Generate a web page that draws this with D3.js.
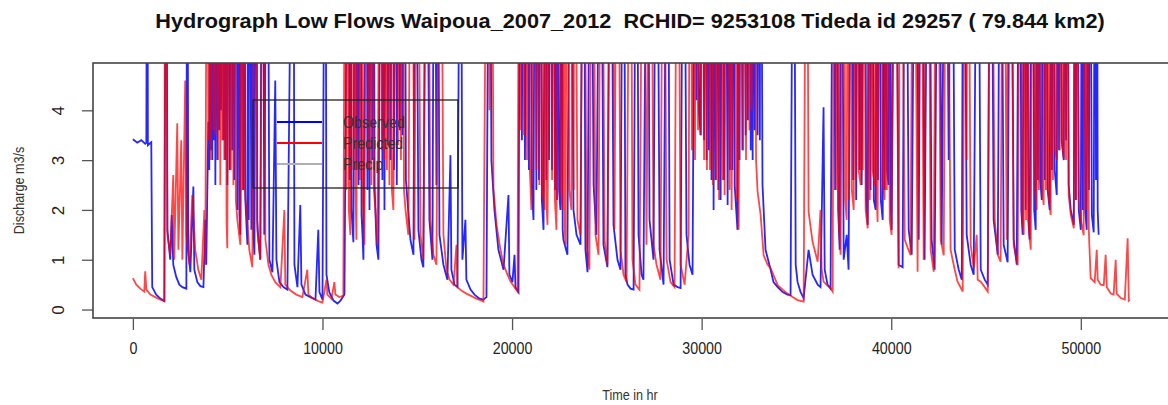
<!DOCTYPE html>
<html>
<head>
<meta charset="utf-8">
<script src="https://cdn.jsdelivr.net/npm/d3@7"></script>
<style>
  html, body { margin: 0; padding: 0; background: #fff; }
  svg { display: block; font-family: "Liberation Sans", Arial, sans-serif; }
</style>
</head>
<body>
<svg id="chart" width="1168" height="405"></svg>
<script>
/**
 * Peaks run above the plot top and are clipped, as in the original.
 */
const observedFlow = [
  [0,3.42],[230,3.35],[440,3.40],[650,3.33],[710,3.35],[760,12],[790,3.3],[970,3.36],[1020,0.45],[1230,0.3],[1450,0.22],[1660,0.17],
  [1760,12],[1820,1.6],[1970,1.0],[2050,1.9],[2130,0.9],[2290,0.65],[2450,0.5],[2610,0.45],[2820,0.42],[2870,12],[2920,1.2],[3030,0.75],
  [3190,2.47],[3240,0.8],[3400,0.55],[3560,0.47],[3720,0.45],[3820,1.8],[3870,0.9],
  [3980,3.77],[4030,2.8],[4090,12],[4120,3.2],[4140,12],[4190,3.0],[4240,12],[4270,3.4],[4300,12],[4350,2.5],[4420,12],[4460,3.0],
  [4510,12],[4560,3.6],[4610,12],[4650,4.0],[4720,12],[4770,3.4],[4820,12],[4870,3.0],[4930,12],[4980,2.5],[5070,12],[5110,2.8],
  [5190,12],[5240,3.2],[5310,12],[5350,2.6],[5460,12],[5510,2.0],[5580,12],[5620,1.9],[5670,1.5],[5770,12],[5820,2.4],[5880,12],
  [5930,2.2],[6040,1.3],[6080,12],[6110,1.8],[6140,12],[6250,1.6],[6330,12],[6360,1.5],[6410,1.1],[6510,12],[6560,1.8],[6620,1.4],
  [6720,1.0],[6830,12],[6930,1.5],[7090,12],[7200,1.0],[7360,0.75],
  [7510,4.6],[7570,1.0],[7730,0.55],[7940,0.45],[8150,0.4],[8460,12],[8520,0.9],[8680,0.45],[8830,2.1],[8890,0.5],[9100,0.3],[9360,0.25],
  [9630,0.2],[9780,1.6],[9840,0.35],[10000,0.2],[10150,12],[10210,0.7],[10360,0.35],[10580,0.18],[10790,0.12],[10950,0.18],[11160,0.3],
  [11370,12],[11430,2.6],[11470,12],[11530,2.0],[11630,1.35],[11740,12],[11790,2.8],[11840,12],[11900,2.5],[12000,12],[12060,1.9],
  [12110,1.5],[12160,1.0],[12320,12],[12370,2.4],[12420,12],[12480,2.0],[12580,12],[12630,3.0],[12690,12],[12750,2.5],[12850,1.3],
  [12950,1.0],[13110,12],[13160,2.6],[13210,12],[13270,2.0],[13370,12],[13450,3.3],[13530,12],[13590,3.0],[13690,12],[13770,2.8],
  [13850,12],[13920,2.5],[14010,12],[14080,3.6],[14160,12],[14220,3.5],[14320,12],[14400,2.6],[14480,2.2],
  [14640,1.4],[14800,1.1],[14900,12],[15060,1.6],[15220,1.0],[15320,0.85],[15480,12],[15640,1.8],[15800,1.0],[15910,12],[16010,2.5],[16060,12],
  [16170,1.5],[16380,0.9],[16590,0.6],[16750,3.1],[16800,0.8],[16960,0.5],[17120,0.45],[17280,12],[17380,1.0],[17540,1.8],[17590,0.6],
  [17810,0.4],[18020,0.3],[18280,0.22],[18490,0.2],[18650,0.25],[18810,12],[18910,3.0],[19070,2.0],[19280,1.2],[19550,0.8],[19810,2.3],
  [19860,0.7],[20020,0.55],[20130,1.1],[20180,0.45],[20340,0.35],
  [20440,12],[20520,3.4],[20600,12],[20680,3.0],[20810,12],[20890,2.8],[20970,12],[21040,2.5],[21130,1.8],[21230,12],[21280,2.4],
  [21340,12],[21420,2.6],[21500,12],[21570,2.2],[21660,1.6],[21760,12],[21810,2.6],[21870,12],[21950,3.0],[22030,12],[22110,2.8],
  [22190,12],[22270,2.4],[22340,12],[22370,2.2],[22400,12],[22480,2.4],[22550,2.0],[22630,12],[22670,1.6],[22710,1.4],[22920,1.1],
  [23080,12],[23240,2.0],
  [23400,1.5],[23610,1.3],[23770,12],[23870,1.2],[23980,0.75],[24140,12],[24300,2.5],[24450,1.5],[24670,12],[24820,1.3],[25030,0.85],
  [25190,12],[25350,1.7],[25560,1.0],[25720,0.8],[25880,12],[25980,0.7],[26090,0.5],[26250,0.42],[26410,0.4],[26570,12],[26670,1.5],
  [26830,0.7],[26930,0.6],[27150,12],[27250,1.8],[27460,1.0],[27620,12],[27780,1.2],[27990,0.5],[28200,12],[28310,1.0],[28520,0.5],
  [28730,0.45],[28890,0.43],[29050,12],[29200,1.5],[29360,0.9],[29520,0.7],
  [29680,12],[29730,4.2],[29780,12],[29860,4.0],[29940,3.5],[30050,12],[30130,3.4],[30190,12],[30260,3.0],[30340,12],[30380,3.2],
  [30420,12],[30520,2.6],[30580,12],[30630,2.0],[30700,12],[30740,2.6],[30790,12],[30880,2.4],[30940,12],[31000,2.2],[31100,12],
  [31180,2.6],[31240,12],[31370,2.1],[31450,12],[31490,2.8],[31530,12],[31620,2.8],[31680,12],[31740,2.5],[31890,1.6],[31960,12],
  [32000,3.0],[32050,12],[32150,3.2],[32220,12],[32320,3.5],[32400,12],[32440,3.8],[32480,12],[32590,3.2],[32640,12],[32690,3.0],
  [32760,12],[32800,3.6],[32840,12],[32950,3.5],[33030,12],[33070,3.4],[33110,12],
  [33210,2.5],[33370,1.2],[33640,0.8],[33790,0.55],[34010,0.45],[34270,0.35],[34530,0.3],
  [34690,0.29],[34850,12],[34960,0.9],[35060,0.55],[35220,0.35],[35380,0.23],[35640,1.2],[35850,0.7],[36120,0.5],[36270,0.45],[36430,4.06],
  [36490,0.8],[36640,0.5],[36800,0.42],
  [36960,12],[37040,2.4],[37120,12],[37200,2.0],[37280,1.2],[37380,12],[37490,1.0],[37650,1.5],[37750,0.8],[37910,12],[37990,2.6],
  [38070,12],[38150,2.2],[38230,12],[38330,2.8],[38400,12],[38440,2.5],[38600,12],[38680,2.2],[38760,1.7],[38860,12],[38910,2.4],
  [38970,12],[39080,2.2],[39180,2.0],[39260,12],[39300,2.6],[39340,12],[39450,2.2],[39550,1.8],[39630,12],[39660,2.4],[39700,12],
  [39780,2.8],[39860,2.5],[39940,12],[39980,2.0],[40020,1.6],
  [40230,12],[40390,0.9],[40600,0.85],[40760,12],[40920,1.6],[41080,1.1],[41290,12],[41450,1.4],[41600,12],[41760,1.0],[41970,12],[42130,1.4],
  [42290,0.8],[42500,12],[42660,1.3],[42870,12],[43030,3.0],[43190,12],[43350,1.2],[43560,0.8],[43720,0.6],[43820,12],[43980,1.5],[44190,0.9],
  [44350,0.7],[44560,12],[44720,0.8],[44930,0.6],[45090,0.5],[45250,12],[45400,1.8],[45620,1.1],[45770,12],[45930,1.3],[46140,0.95],
  [46300,12],[46460,1.4],[46620,0.9],
  [46780,12],[46860,2.0],[46930,1.5],[47050,12],[47090,2.0],[47150,12],[47230,1.8],[47300,1.4],[47460,12],[47540,2.0],[47620,1.6],
  [47700,12],[47740,2.6],[47780,12],[47860,2.6],[47940,2.2],[48050,12],[48100,2.6],[48150,12],[48250,2.4],[48360,2.0],[48440,12],
  [48480,2.8],[48520,12],[48620,2.8],[48730,2.3],[48810,12],[48850,3.2],[48890,12],[48990,3.4],[49100,3.0],[49180,12],[49220,3.4],
  [49260,12],[49360,2.5],[49470,2.0],[49630,1.7],[49700,12],[49740,2.2],[49780,12],[49890,2.0],[50000,1.6],[50080,12],[50110,2.0],
  [50150,12],[50230,2.0],[50310,1.6],[50400,12],[50430,2.4],[50470,12],[50580,1.9],[50680,1.55],[50760,12],[50800,2.6],[50840,12],
  [50890,2.0],[50940,1.5]
];

const predictedFlow = [
  [0,0.63],[180,0.5],[390,0.42],[600,0.36],[650,0.77],[710,0.4],[920,0.3],[1180,0.25],[1450,0.2],[1660,0.17],[1710,12],[1820,1.5],
  [1970,1.1],[2130,2.7],[2180,1.0],[2340,3.74],[2400,1.2],[2550,3.4],[2610,1.0],[2760,4.6],[2820,1.5],[2980,0.9],[3130,2.3],[3290,1.2],
  [3450,0.8],[3610,0.6],[3770,2.0],[3820,0.9],
  [3930,12],[3980,3.4],[4030,12],[4100,3.0],[4190,12],[4250,3.6],[4300,12],[4350,3.5],[4400,12],[4480,3.0],[4560,12],[4610,2.5],
  [4670,12],[4720,3.4],[4770,12],[4820,3.0],[4880,12],[4940,1.8],[4980,1.23],[5090,12],[5170,2.8],[5250,12],[5300,2.5],[5350,12],
  [5430,2.2],[5510,1.8],[5670,1.3],[5750,12],[5790,2.4],[5830,12],[5910,2.4],[5990,2.0],
  [6140,1.2],[6300,0.85],[6460,12],[6560,1.6],
  [6720,1.0],[6880,12],[6990,1.4],[7150,0.9],[7300,0.7],[7510,0.55],[7780,0.45],[7990,2.0],[8040,0.5],[8310,0.38],[8620,0.3],[8940,0.25],
  [9200,0.8],[9260,0.3],[9520,0.22],[9780,0.17],[10000,0.14],[10210,0.6],[10260,0.3],[10470,0.22],[10630,0.55],[10680,0.3],[10890,0.25],
  [11100,0.28],
  [11210,12],[11260,2.4],[11310,12],[11390,2.0],[11470,1.5],[11580,12],[11630,2.8],[11680,12],[11740,2.5],[11790,1.4],[11900,12],
  [11970,2.6],[12050,12],[12130,2.2],[12210,1.3],[12370,12],[12450,2.8],[12530,12],[12580,2.5],[12630,12],[12710,2.4],[12790,2.0],
  [12900,1.3],[13060,12],[13130,3.2],[13210,12],[13260,3.0],[13320,12],[13400,2.8],[13480,12],[13530,2.5],[13580,12],[13660,2.4],
  [13740,2.0],[13900,12],[13980,3.3],[14060,12],[14140,3.0],[14220,12],[14300,2.4],[14380,2.0],
  [14530,1.5],[14690,12],[14850,1.4],[15010,12],[15170,1.5],[15320,1.0],[15540,12],[15690,1.8],[15850,1.1],
  [16010,0.9],[16220,12],[16380,1.5],[16540,0.8],[16700,0.6],[16910,0.5],[17070,1.3],[17120,0.45],[17330,0.38],[17590,0.32],[17860,0.27],
  [18120,0.22],[18330,0.19],[18490,0.16],[18700,12],[18810,4.0],[18910,12],[19020,2.43],[19180,1.7],[19390,1.2],[19550,0.9],[19760,0.7],
  [19920,0.56],[20130,0.45],[20290,0.36],
  [20390,12],[20470,3.6],[20550,12],[20630,3.5],[20710,12],[20790,3.0],[20870,12],[20940,2.8],[21020,2.0],[21180,12],[21290,2.8],
  [21390,12],[21440,2.5],[21500,12],[21600,2.4],[21710,2.0],[21790,12],[21830,2.0],[21870,1.7],[22030,12],[22110,2.6],[22190,12],
  [22260,2.2],[22340,1.6],[22500,12],[22580,2.4],[22660,2.0],[22740,12],[22780,1.6],[22820,1.3],[22920,12],[23020,2.4],[23130,2.0],
  [23210,12],[23250,2.4],[23290,12],[23450,1.8],
  [23610,1.5],[23770,12],[23930,1.3],[24080,0.8],[24240,12],[24400,1.5],[24560,1.1],[24720,12],[24880,1.4],[25030,0.9],[25250,12],[25400,1.6],
  [25560,12],[25720,1.2],[25880,0.7],[26040,0.55],[26250,12],[26350,1.0],[26510,0.5],[26720,0.4],[26930,12],[27090,1.3],[27300,12],
  [27460,1.3],[27620,0.9],[27830,0.6],[27990,12],[28150,1.0],[28360,0.55],[28570,0.45],[28730,12],[28890,0.9],[29100,0.5],[29310,1.5],
  [29410,12],[29490,3.2],[29570,12],[29650,3.0],[29730,12],[29810,3.6],[29890,12],[29970,3.5],[30050,12],[30130,3.0],[30210,12],
  [30280,2.8],[30360,12],[30440,2.8],[30520,12],[30600,2.5],[30680,12],[30760,2.6],[30840,12],[30920,2.2],[31000,12],[31100,2.6],
  [31160,12],[31210,2.3],[31370,12],[31470,2.4],[31530,12],[31580,2.0],[31740,12],[31840,2.2],[31890,12],[31950,1.6],[32110,12],
  [32190,3.2],[32270,12],[32340,3.0],[32420,12],[32520,3.6],[32580,12],[32630,4.0],[32790,12],[32870,3.0],[32950,2.37],
  [33110,1.9],[33270,1.09],
  [33480,0.9],[33640,0.83],[34010,0.49],[34270,0.4],[34530,0.32],[34800,0.25],[35060,0.19],[35380,0.16],[35540,12],[35640,1.96],
  [35850,1.36],[36120,0.96],[36270,2.0],[36330,0.8],[36430,0.56],[36640,0.48],[36800,0.43],[36910,0.36],
  [37010,12],[37090,2.4],[37170,12],[37250,1.6],[37330,1.1],[37490,12],[37570,2.2],[37650,1.8],[37730,12],[37770,2.2],[37810,12],
  [37920,2.4],[38020,2.0],[38100,12],[38130,2.6],[38170,12],[38280,2.8],[38390,2.5],[38460,12],[38500,2.8],[38540,12],[38650,2.0],
  [38760,1.63],[38840,12],[38870,2.2],[38910,12],[39020,2.8],[39130,2.5],[39200,12],[39240,2.2],[39280,1.76],[39440,12],[39540,2.6],
  [39650,2.2],[39730,12],[39770,2.4],[39810,12],[39920,1.8],[40020,1.5],[40180,12],
  [40390,0.83],[40500,12],[40710,1.4],[41020,1.09],[41180,12],[41390,0.76],[41550,12],[41710,1.0],
  [41920,12],[42080,1.2],[42240,0.76],[42400,12],[42610,1.4],[42770,1.09],[42920,12],[43130,1.2],[43350,0.8],[43500,0.56],[43770,0.36],
  [43930,12],[43980,3.0],[44030,12],[44190,1.3],[44350,0.83],[44510,1.5],[44560,0.6],[44720,0.56],[44930,0.45],[45090,0.36],[45250,12],
  [45460,1.8],[45620,1.1],[45770,0.96],[45930,12],[46090,1.4],[46250,12],[46460,1.3],[46670,0.89],
  [46830,12],[46910,1.9],[46990,1.5],[47070,12],[47110,1.8],[47150,12],[47260,1.6],[47360,1.2],[47510,12],[47590,2.4],[47670,2.0],
  [47750,12],[47790,2.4],[47830,12],[47940,2.5],[48040,2.1],[48120,12],[48160,2.4],[48200,12],[48300,2.3],[48410,1.9],[48490,12],
  [48530,2.6],[48570,12],[48650,3.2],[48730,3.0],[48840,12],[48890,3.2],[48940,12],[49020,3.3],[49100,3.03],[49180,12],[49220,3.0],
  [49260,12],[49360,2.3],[49470,1.9],[49630,1.63],[49700,12],[49740,2.2],[49780,12],[49890,2.2],[50000,1.8],[50150,1.49],[50230,12],
  [50270,2.0],[50310,12],
  [50420,1.6],[50520,0.63],[50730,0.55],[50840,1.2],[50890,0.6],
  [51050,0.5],[51210,0.49],[51310,1.1],[51370,0.45],[51580,0.32],[51730,0.3],[51840,1.0],[51890,0.32],[52110,0.23],[52320,0.2],
  [52470,1.43],[52530,0.18],[52580,0.2]
];

const xTicks = [0, 10000, 20000, 30000, 40000, 50000];
const yTicks = [0, 1, 2, 3, 4];
const legendLabels = ['Observed', 'Predicted', 'Precip'];
const legendColors = ['#0000ff', '#ff0000', '#b0b0b0'];
const titleText = 'Hydrograph Low Flows Waipoua_2007_2012  RCHID= 9253108 Tideda id 29257 ( 79.844 km2)';

/**
 * Layout.
 */
const margin = { top: 63, right: -2, bottom: 87, left: 93 };
const visWidth = 1168, visHeight = 405;
const width = visWidth - margin.left - margin.right,
    height = visHeight - margin.top - margin.bottom;
const squeeze = 0.84; // the original text is horizontally condensed

const svg = d3.select('#chart');

const xScale = d3.scaleLinear().domain([-2104, 54704]).range([0, width]);
const yScale = d3.scaleLinear().domain([-0.17, 4.95]).range([height, 0]);

const defs = svg.append('defs');
// the original is a soft, resampled raster: blur the traces a little
defs.append('filter').attr('id', 'soft')
  .append('feGaussianBlur').attr('stdDeviation', 0.5);
defs.append('clipPath').attr('id', 'plot-clip')
  .append('rect').attr('width', width).attr('height', height);

const g = svg.append('g').attr('transform', `translate(${margin.left},${margin.top})`);

/**
 * Lines.
 */
const line = d3.line()
  .x(d => xScale(d[0]))
  .y(d => yScale(d[1]));

const lines = g.append('g').attr('clip-path', 'url(#plot-clip)')
  .append('g').attr('filter', 'url(#soft)');
lines.append('path')
  .datum(observedFlow)
  .attr('d', line)
  .attr('fill', 'none')
  .attr('stroke', legendColors[0])
  .attr('stroke-opacity', 0.85)
  .attr('stroke-width', 1.8);
lines.append('path')
  .datum(predictedFlow)
  .attr('d', line)
  .attr('fill', 'none')
  .attr('stroke', legendColors[1])
  .attr('stroke-opacity', 0.72)
  .attr('stroke-width', 1.8);

/**
 * Axes.
 */
const xAxis = d3.axisBottom(xScale).tickValues(xTicks).tickSize(11).tickFormat(d3.format('d'));
const yAxis = d3.axisLeft(yScale).tickValues(yTicks).tickSize(11).tickFormat(d3.format('d'));

const xAxisG = g.append('g').attr('transform', `translate(0,${height + 1})`).call(xAxis);
const yAxisG = g.append('g').call(yAxis);
[xAxisG, yAxisG].forEach(a => {
  a.select('.domain').remove();
  a.selectAll('.tick line').attr('stroke', '#555').attr('stroke-width', 1.3);
  a.selectAll('.tick text').attr('fill', '#222').style('font-size', '17px');
});
xAxisG.selectAll('.tick text')
  .attr('y', null).attr('dy', null)
  .attr('transform', `translate(0,35) scale(${squeeze},1)`);
yAxisG.selectAll('.tick text')
  .attr('x', null).attr('dy', null)
  .attr('text-anchor', 'middle')
  .attr('transform', 'translate(-35,0) rotate(-90) translate(0,6)');

// box round the plot region
g.append('rect')
  .attr('width', width).attr('height', height)
  .attr('fill', 'none')
  .attr('stroke', '#444')
  .attr('stroke-width', 1.6);

/**
 * Legend.
 */
const legend = g.append('g').attr('transform', `translate(${253 - margin.left},${100 - margin.top})`);
legend.append('rect')
  .attr('width', 205).attr('height', 88)
  .attr('fill', 'none').attr('stroke', '#222').attr('stroke-width', 1.3);
legendLabels.forEach((label, i) => {
  const y = 22 + i * 21;
  legend.append('line')
    .attr('x1', 24).attr('x2', 69).attr('y1', y).attr('y2', y)
    .attr('stroke', legendColors[i]).attr('stroke-width', 2);
  legend.append('text')
    .attr('transform', `translate(90,${y + 6}) scale(${squeeze},1)`)
    .attr('fill', '#333')
    .style('font-size', '17px')
    .text(label);
});

/**
 * Titles.
 */
const title = svg.append('text')
  .attr('text-anchor', 'middle')
  .attr('fill', '#111')
  .style('font-size', '20px')
  .style('font-weight', 'bold')
  .style('white-space', 'pre')
  .text(titleText);
const titleScale = 950 / title.node().getComputedTextLength();
title.attr('transform', `translate(630,28) scale(${titleScale},1)`);

svg.append('text')
  .attr('text-anchor', 'middle')
  .attr('fill', '#333')
  .style('font-size', '15px')
  .attr('transform', `translate(630,400) scale(${squeeze},1)`)
  .text('Time in hr');

svg.append('text')
  .attr('text-anchor', 'middle')
  .attr('fill', '#333')
  .style('font-size', '15px')
  .attr('transform', `translate(24,${margin.top + height / 2}) rotate(-90) scale(${squeeze},1)`)
  .text('Discharge m3/s');
</script>
</body>
</html>
